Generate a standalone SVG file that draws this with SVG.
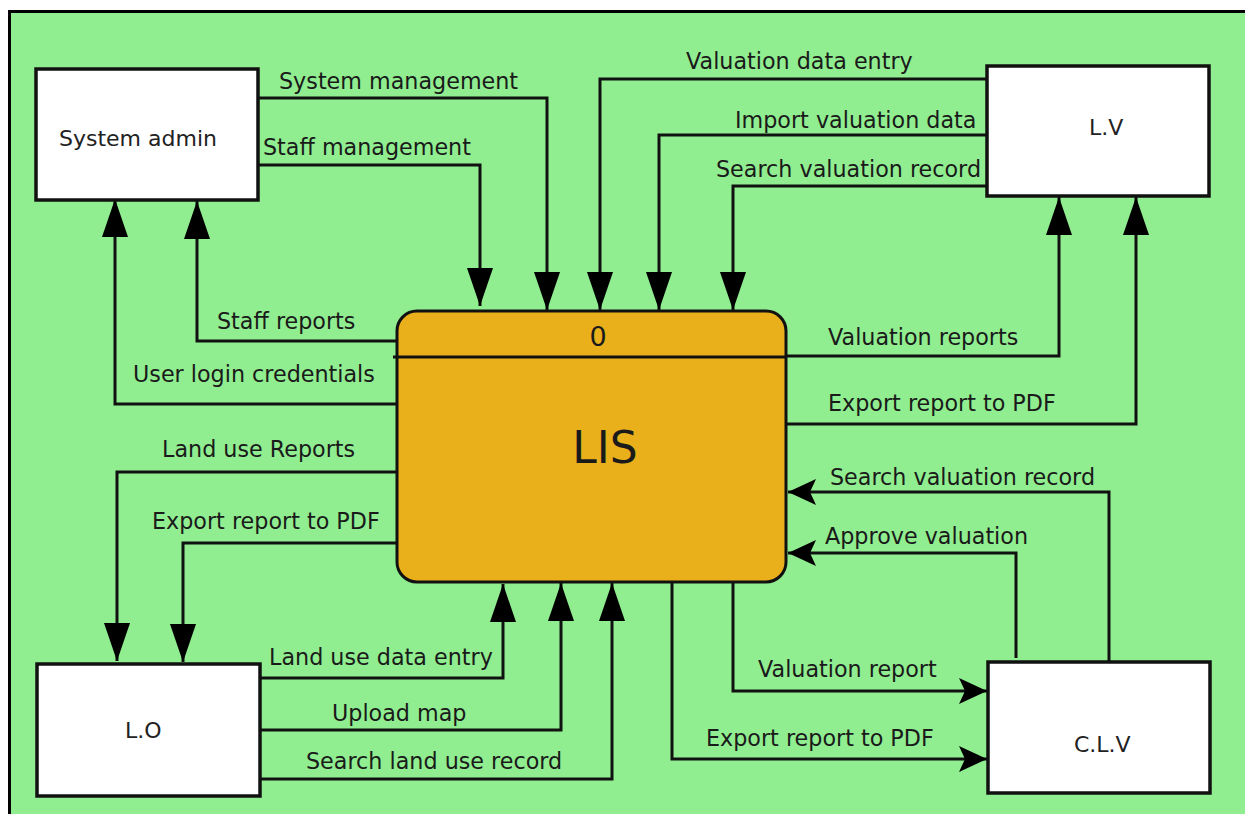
<svg xmlns="http://www.w3.org/2000/svg" width="1245" height="814" viewBox="0 0 1245 814">
  <style>
    .entity { fill: #ffffff; stroke: #111111; stroke-width: 3.5; }
    .process { fill: #EAB01C; stroke: #111111; stroke-width: 3; }
    .flow { fill: none; stroke: #111111; stroke-width: 3; }
    .down { marker-end: url(#tri); }
    .side { marker-end: url(#notch); }
    .label { font-family: "DejaVu Sans", Verdana, sans-serif; font-size: 22.25px; fill: #1a1a1a; }
    .name { font-family: "DejaVu Sans", Verdana, sans-serif; font-size: 22px; fill: #222222; }
  </style>
  <defs>
    <!-- plain triangle used on vertical flows -->
    <marker id="tri" viewBox="0 0 38 26" refX="38" refY="13" markerWidth="38" markerHeight="26" markerUnits="userSpaceOnUse" orient="auto">
      <path d="M0,0 L38,13 L0,26 Z" fill="#000000"/>
    </marker>
    <!-- notched arrowhead used on horizontal flows -->
    <marker id="notch" viewBox="0 0 28 26" refX="28" refY="13" markerWidth="28" markerHeight="26" markerUnits="userSpaceOnUse" orient="auto">
      <path d="M0,0 L28,13 L0,26 L6,13 Z" fill="#000000"/>
    </marker>
  </defs>

  <!-- background frame -->
  <rect x="0" y="0" width="1245" height="814" fill="#ffffff"/>
  <rect x="9.5" y="11.5" width="1245" height="815" fill="#90EE90" stroke="#000000" stroke-width="3"/>

  <!-- data flows -->
  <g id="connectors">
    <path class="flow down" d="M258,98 H547 V310"/>
    <path class="flow down" d="M258,165 H480 V306"/>
    <path class="flow down" d="M987,79 H600 V310"/>
    <path class="flow down" d="M987,135 H659 V310"/>
    <path class="flow down" d="M987,186 H733 V310"/>
    <path class="flow down" d="M397,341 H197 V201"/>
    <path class="flow down" d="M397,404 H115 V199"/>
    <path class="flow down" d="M786,356 H1059 V197"/>
    <path class="flow down" d="M786,424 H1136 V197"/>
    <path class="flow down" d="M397,472 H117 V661"/>
    <path class="flow down" d="M397,543 H183 V662"/>
    <path class="flow down" d="M260,678 H503 V584"/>
    <path class="flow down" d="M260,730 H561 V583"/>
    <path class="flow down" d="M260,779 H612 V583"/>
    <path class="flow side" d="M1109,662 V492 H788"/>
    <path class="flow side" d="M1016,658 V553 H788"/>
    <path class="flow side" d="M733,582 V691 H987"/>
    <path class="flow side" d="M672,582 V759 H987"/>

    <text class="label" x="279" y="89">System management</text>
    <text class="label" x="263" y="155">Staff management</text>
    <text class="label" x="686" y="69">Valuation data entry</text>
    <text class="label" x="735" y="128">Import valuation data</text>
    <text class="label" x="716" y="177">Search valuation record</text>
    <text class="label" x="217" y="329">Staff reports</text>
    <text class="label" x="133" y="382">User login credentials</text>
    <text class="label" x="828" y="345">Valuation reports</text>
    <text class="label" x="828" y="411">Export report to PDF</text>
    <text class="label" x="162" y="457">Land use Reports</text>
    <text class="label" x="152" y="529">Export report to PDF</text>
    <text class="label" x="269" y="665">Land use data entry</text>
    <text class="label" x="332" y="721">Upload map</text>
    <text class="label" x="306" y="769">Search land use record</text>
    <text class="label" x="830" y="485">Search valuation record</text>
    <text class="label" x="825" y="544">Approve valuation</text>
    <text class="label" x="758" y="677">Valuation report</text>
    <text class="label" x="706" y="746">Export report to PDF</text>
  </g>

  <!-- central process -->
  <g id="process-lis">
    <rect class="process" x="397" y="311" width="389" height="271" rx="20" ry="20"/>
    <line x1="393" y1="357" x2="786" y2="357" stroke="#111111" stroke-width="3"/>
    <text x="598" y="346" text-anchor="middle" font-family="DejaVu Sans, Verdana, sans-serif" font-size="27" fill="#1a1a1a">0</text>
    <text x="605" y="463" text-anchor="middle" font-family="DejaVu Sans, Verdana, sans-serif" font-size="44" fill="#1a1a1a">LIS</text>
  </g>

  <!-- external entities -->
  <g id="system-admin">
    <rect class="entity" x="36" y="69" width="222" height="131"/>
    <text class="name" x="59" y="146">System admin</text>
  </g>
  <g id="lv">
    <rect class="entity" x="987" y="66" width="222" height="130"/>
    <text class="name" x="1089" y="135">L.V</text>
  </g>
  <g id="lo">
    <rect class="entity" x="37" y="664" width="223" height="132"/>
    <text class="name" x="125" y="738">L.O</text>
  </g>
  <g id="clv">
    <rect class="entity" x="988" y="662" width="222" height="131"/>
    <text class="name" x="1074" y="752">C.L.V</text>
  </g>
</svg>
